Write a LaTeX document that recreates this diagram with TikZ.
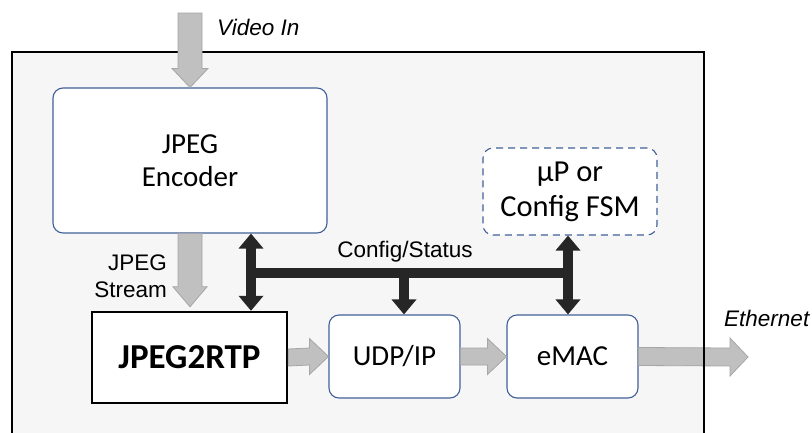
\documentclass[tikz,border=0pt]{standalone}
\usepackage{fontspec}
\setmainfont{Liberation Sans}
\newfontfamily\boxfont{Carlito}
\usetikzlibrary{arrows.meta,calc,positioning}
\definecolor{blueline}{RGB}{66,96,152}
\definecolor{garrowfill}{RGB}{192,192,192}
\definecolor{garrowline}{RGB}{165,165,170}
\definecolor{busblack}{RGB}{38,38,38}
\definecolor{bgfill}{RGB}{246,246,246}
\tikzset{
  blockbox/.style={draw=blueline, line width=1.1pt, rounded corners=10pt, fill=white,
    font=\boxfont\fontsize{29}{33}\selectfont, align=center, inner sep=0pt},
  rtpbox/.style={draw=black, line width=2.4pt, fill=white,
    font=\boxfont\bfseries\fontsize{35}{39}\selectfont, inner sep=0pt},
  dashbox/.style={draw=blueline, line width=1.1pt, rounded corners=10pt, fill=white,
    dash pattern=on 7pt off 5pt,
    font=\boxfont\fontsize{30.5}{35}\selectfont, align=center, inner sep=0pt},
  lbl/.style={font=\fontsize{22.5}{27}\selectfont, inner sep=0pt},
  ilbl/.style={font=\itshape\fontsize{22.5}{27}\selectfont, inner sep=0pt},
  garrow/.style={fill=garrowfill, draw=garrowline, line width=0.8pt, line join=miter},
  bus/.style={draw=busblack, line width=10pt},
  busarrow/.style={bus, -{Triangle[width=24pt,length=15pt]}},
  busdarrow/.style={bus, {Triangle[width=24pt,length=15pt]}-{Triangle[width=24pt,length=15pt]}},
}
\begin{document}
\begin{tikzpicture}[x=1pt,y=-1pt]
\useasboundingbox (0,0) rectangle (812,432);
% outer frame
\draw[line width=1.8pt, fill=bgfill] (12,52) -- (12,445) -- (704,445) -- (704,52) -- cycle;

% nodes
\node[blockbox, minimum width=274pt, minimum height=145pt] (enc) at (190,160.5) {JPEG\\Encoder};
\node[rtpbox, minimum width=195pt, minimum height=91pt] (rtp) at (189.5,357.5) {JPEG2RTP};
\node[blockbox, minimum width=131pt, minimum height=83pt] (udp) at (394.5,356.5) {UDP/IP};
\node[blockbox, minimum width=131pt, minimum height=83pt] (emac) at (572.5,356.5) {eMAC};
\node[dashbox, minimum width=174pt, minimum height=87pt] (up) at (570,191.5) {µP or\\Config FSM};

% labels
\node[ilbl, anchor=west] (vinl) at (217,27) {Video In};
\node[lbl, align=right, anchor=east] (jsl) at (167,276) {JPEG\\Stream};
\node[lbl, anchor=south] (csl) at (405,262) {Config/Status};
\node[ilbl, anchor=west] (ethl) at (724,318) {Ethernet};

% free ends
\coordinate (vin) at (190,13);
\coordinate (eth) at (748,357);

% gray block arrows
% Video In -> encoder
\path[garrow] ($(vin)+(-12,0)$) -- ($(vin|-enc.north)+(-12,-19)$) -- ($(vin|-enc.north)+(-18,-19)$)
  -- (vin|-enc.north) -- ($(vin|-enc.north)+(18,-19)$) -- ($(vin|-enc.north)+(12,-19)$)
  -- ($(vin)+(12,0)$) -- cycle;
% encoder -> JPEG2RTP
\path[garrow] ($(enc.south)+(-12,0)$) -- ($(enc.south|-rtp.north)+(-12,-24)$) -- ($(enc.south|-rtp.north)+(-17,-24)$)
  -- ($(enc.south|-rtp.north)+(0,-4)$) -- ($(enc.south|-rtp.north)+(17,-24)$) -- ($(enc.south|-rtp.north)+(12,-24)$)
  -- ($(enc.south)+(12,0)$) -- cycle;
% JPEG2RTP -> UDP/IP
\path[garrow] ($(rtp.east)+(0,-8.5)$) -- ($(udp.west)+(-19,-8.5)$) -- ($(udp.west)+(-19,-18)$)
  -- (udp.west) -- ($(udp.west)+(-19,18)$) -- ($(udp.west)+(-19,8.5)$)
  -- ($(rtp.east)+(0,8.5)$) -- cycle;
% UDP/IP -> eMAC
\path[garrow] ($(udp.east)+(0,-8.5)$) -- ($(emac.west)+(-19,-8.5)$) -- ($(emac.west)+(-19,-18)$)
  -- (emac.west) -- ($(emac.west)+(-19,18)$) -- ($(emac.west)+(-19,8.5)$)
  -- ($(udp.east)+(0,8.5)$) -- cycle;
% eMAC -> Ethernet
\path[garrow] ($(emac.east)+(0,-9)$) -- ($(eth)+(-18,-9)$) -- ($(eth)+(-18,-19)$)
  -- (eth) -- ($(eth)+(-18,19)$) -- ($(eth)+(-18,9)$)
  -- ($(emac.east)+(0,9)$) -- cycle;
% redraw frame line over the ethernet arrow
\draw[line width=1.8pt] (704,52) -- (704,445);

% config/status bus
\coordinate (busL) at (251,273);
\coordinate (busR) at (568,273);
\coordinate (busM) at (404,273);
\draw[bus] ($(busL)+(-5,0)$) -- ($(busR)+(5,0)$);
\draw[busdarrow] (busL|-enc.south) -- (busL|-rtp.north);
\draw[busdarrow] (busR|-up.south) -- (busR|-emac.north);
\draw[busarrow] ($(busM)+(0,-5)$) -- (busM|-udp.north);
\end{tikzpicture}
\end{document}
